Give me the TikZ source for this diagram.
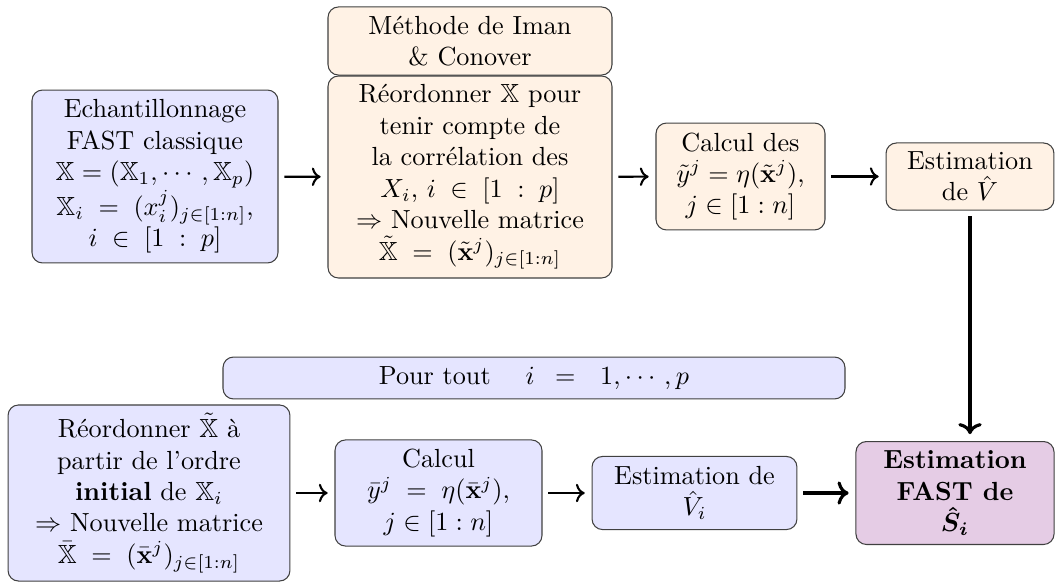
\documentclass[tikz,border=0pt]{standalone}
\usepackage{amssymb}
\usepackage{amsmath}
\usepackage{bm}
\usepackage{xcolor}
\usetikzlibrary{positioning,arrows.meta}

\begin{document}
\begin{tikzpicture}[x=0.3817pt, y=-0.3817pt,
    boite/.style={draw=black!75, rounded corners=4pt, align=center, inner sep=2pt},
    boitebleue/.style={boite, fill=blue!10},
    boiteorange/.style={boite, fill=orange!10},
    boiteviolette/.style={boite, fill=violet!20},
    fleche/.style={->, thick, shorten <=2.2pt, shorten >=2.6pt},
    grossefleche/.style={fleche, very thick}]
\useasboundingbox (0,0) rectangle (1055,582);

    % ligne du haut
    \draw (155,176.5) node [boitebleue, minimum width=93.9pt, minimum height=66pt] (echant) {Echantillonnage\\ FAST classique\\ $\mathbb{X} = (\mathbb{X}_1, \cdots, \mathbb{X}_p)$\\ $\mathbb{X}_i \;=\; (x_i^j)_{j\in[1:n]}$,\\ $i \;\in\; [1 \;:\; p]$};
    \draw (470,41) node [boiteorange, minimum width=108.4pt, minimum height=26pt] (iman) {M\'ethode de Iman\\ \& Conover};
    \draw (470,177) node [boiteorange, minimum width=108.4pt, minimum height=77.1pt] (reord) {R\'eordonner $\mathbb{X}$ pour\\ tenir compte de\\ la corr\'elation des\\ $X_i$, $i \;\in\; [1 \;:\; p]$\\ $\Rightarrow$ Nouvelle matrice\\ $\tilde{\mathbb{X}} \;=\; (\tilde{\mathbf{x}}^j)_{j\in[1:n]}$};
    \draw (740.5,176.5) node [boiteorange, minimum width=64.5pt, minimum height=40.8pt] (calcul) {Calcul des\\ $\tilde{y}^j = \eta(\tilde{\mathbf{x}}^j)$,\\ $j \in [1:n]$};
    \draw (970,176.5) node [boiteorange, minimum width=64.1pt, minimum height=25.6pt] (estimV) {Estimation\\ de $\hat{V}$};

    \draw [fleche] (echant) -- (reord);
    \draw [fleche] (reord) -- (calcul);
    \draw [fleche] (calcul) -- (estimV);

    % boucle sur i
    \draw (534,378) node [boitebleue, minimum width=237.4pt, minimum height=16pt] (pourtout) {Pour tout \quad $i \enspace = \enspace\, 1,\cdots,p$};

    % ligne du bas
    \draw (149,493) node [boitebleue, minimum width=107.6pt, minimum height=67.2pt] (reordi) {R\'eordonner $\tilde{\mathbb{X}}$ \`a\\ partir de l'ordre\\ \textbf{initial} de $\mathbb{X}_i$\\ $\Rightarrow$ Nouvelle matrice\\ $\bar{\mathbb{X}} \;=\; (\bar{\mathbf{x}}^j)_{j\in[1:n]}$};
    \draw (438.5,493) node [boitebleue, minimum width=79pt, minimum height=40.5pt] (calculi) {Calcul\\ $\bar{y}^j \;=\; \eta(\bar{\mathbf{x}}^j)$,\\ $j \in [1:n]$};
    \draw (694.5,493) node [boitebleue, minimum width=78.2pt, minimum height=27.9pt] (estimVi) {Estimation de\\ $\hat{V}_i$};
    \draw (955,493) node [boiteviolette, minimum width=75.6pt, minimum height=39.3pt] (fast) {\textbf{Estimation}\\ \textbf{FAST de}\\ $\bm{\hat{S}_i}$};

    \draw [fleche] (reordi) -- (calculi);
    \draw [fleche] (calculi) -- (estimVi);
    \draw [grossefleche] (estimVi) -- (fast);
    \draw [grossefleche] (estimV) -- (estimV |- fast.north);

\end{tikzpicture}
\end{document}
